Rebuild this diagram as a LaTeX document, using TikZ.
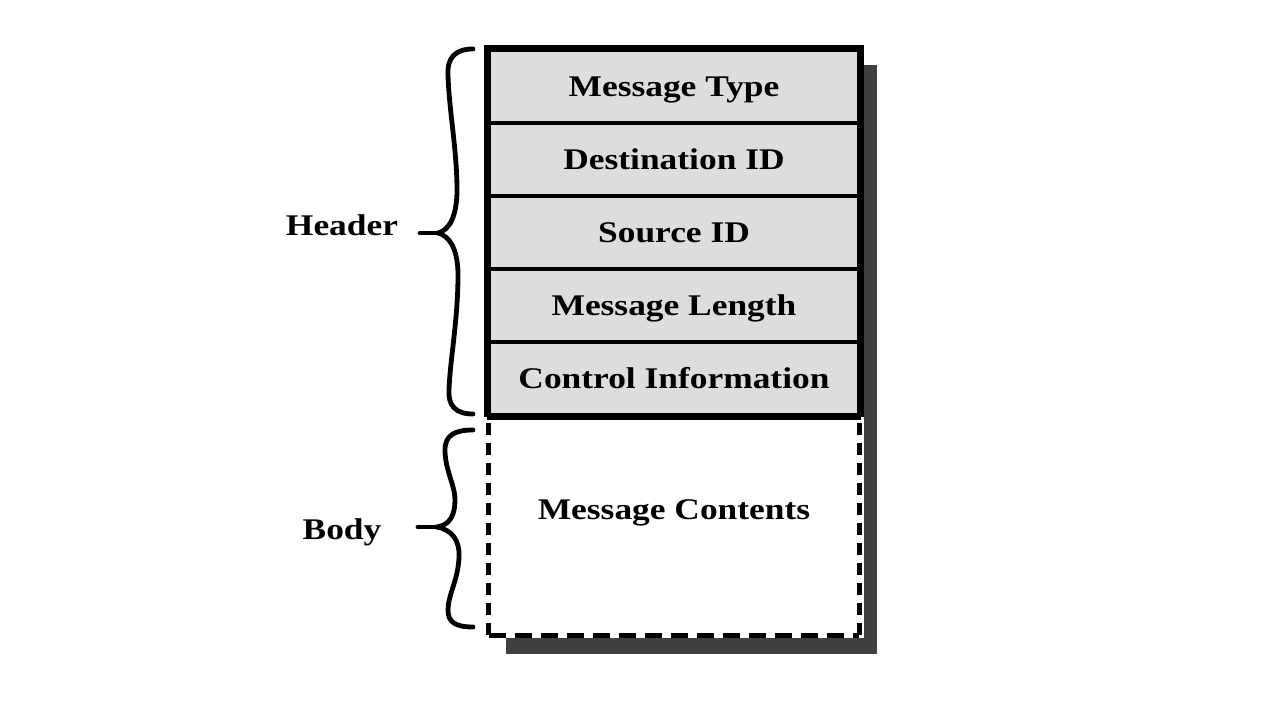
\documentclass[tikz,border=0pt]{standalone}
\usepackage{fontspec}
\newfontfamily\labfont[FakeStretch=1.18]{Liberation Serif}
\usetikzlibrary{calc}
\definecolor{rowgray}{HTML}{DDDDDD}
\definecolor{shadowgray}{HTML}{404040}
\begin{document}
\begin{tikzpicture}[x=0.75pt,y=-0.75pt,
  lab/.style={font=\labfont\bfseries\fontsize{22.5}{27}\selectfont, text height=14.9pt, text depth=0pt, inner sep=0pt},
  row/.style={lab, draw, fill=rowgray, line width=3.6pt, minimum width=277.5pt, minimum height=54.75pt},
  bodybox/.style={fill=white, minimum width=277.5pt, minimum height=165pt, inner sep=0pt},
  vdash/.style={line width=3.4pt, dash pattern=on 9pt off 6pt},
  hdash/.style={line width=3.4pt, dash pattern=on 12.75pt off 6.75pt},
  bracepath/.style={line width=3.6pt, line cap=round, line join=round}]
\useasboundingbox (0,0) rectangle (1261,717);
% header rows and body
\node[row] (r1) at (674,86.5) {Message Type};
\node[row] (r2) at (674,159.5) {Destination ID};
\node[row] (r3) at (674,232.5) {Source ID};
\node[row] (r4) at (674,305.5) {Message Length};
\node[row] (r5) at (674,378.5) {Control Information};
\node[bodybox] (body) at (674,525) {};
% shadow
\fill[shadowgray] ($(r1.north east)+(3,17)$) rectangle ($(body.south east)+(18,19)$);
\fill[shadowgray] ($(body.south west)+(17,3)$) rectangle ($(body.south east)+(18,19)$);
% header outline
\draw[line width=4.1pt] (r5.south west) -- (r1.north west) -- (r1.north east) -- (r5.south east);
\draw[line width=3.6pt] (r5.south west) -- (r5.south east);
% dashed body outline
\draw[vdash] (body.south west) -- (body.north west);
\draw[vdash] (body.south east) -- (body.north east);
\draw[hdash] (body.south west) -- (body.south east);
\node[lab] (contents) at (674,510) {Message Contents};
% labels
\node[lab] (header) at (342,226) {Header};
\node[lab] (bodylab) at (342,530) {Body};
% header brace
\coordinate (hb) at (438,233);
\draw[bracepath] (473,49) .. controls (455,49) and (447,58) .. (448,75)
  .. controls (449,110) and (457,150) .. (457,190)
  .. controls (457,215) and (450,230) .. (hb);
\draw[bracepath] (hb) .. controls (450,236) and (458,250) .. (458,275)
  .. controls (458,320) and (450,360) .. (449,390)
  .. controls (448,405) and (455,414) .. (473,414);
\draw[bracepath] (hb) -- (420,233);
% body brace
\coordinate (bb) at (437,527);
\draw[bracepath] (473,430) .. controls (455,430) and (445,435) .. (445,450)
  .. controls (445,470) and (455,485) .. (455,500)
  .. controls (455,515) and (450,525) .. (bb);
\draw[bracepath] (bb) .. controls (452,530) and (460,540) .. (459,558)
  .. controls (458,580) and (448,595) .. (448,610)
  .. controls (448,622) and (455,627) .. (473,627);
\draw[bracepath] (bb) -- (418,527);
\end{tikzpicture}
\end{document}
